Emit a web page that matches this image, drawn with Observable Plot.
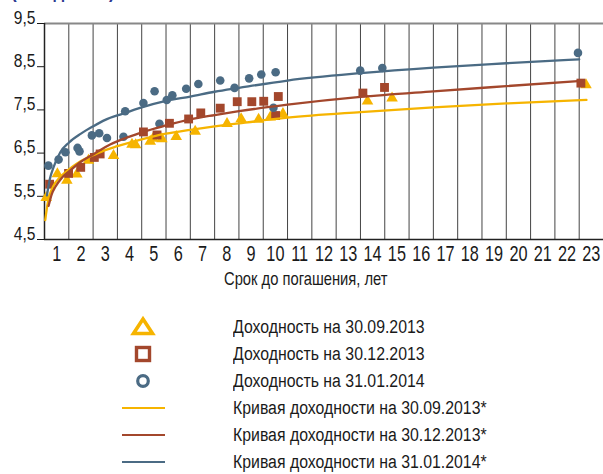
<!DOCTYPE html>
<html>
<head>
<meta charset="utf-8">
<script src="https://cdn.jsdelivr.net/npm/d3@7"></script>
<script src="https://cdn.jsdelivr.net/npm/@observablehq/plot@0.6"></script>
<style>
  body { margin: 0; background: #fff; }
  #wrap { position: relative; width: 603px; height: 474px; overflow: hidden; background: #fff;
          font-family: "Liberation Sans", Arial, sans-serif; color: #1a1a1a; }
  #title { position: absolute; left: 11px; top: -19px; font-size: 20px; line-height: 20px; font-weight: bold; color: #2B3990; white-space: nowrap;
           transform: scaleX(0.85); transform-origin: left center; }
  #chart { position: absolute; left: 0; top: 0; }
  .lg-row { position: absolute; left: 0; height: 24px; width: 603px; }
  .lg-row svg { position: absolute; left: 115px; top: 0; }
  .lg-row span { position: absolute; left: 233px; top: 0; font-size: 18px; line-height: 24px; white-space: nowrap; color: #1a1a1a;
                 transform: scaleX(0.88); transform-origin: left center; }
</style>
</head>
<body>
<div id="wrap">
  <div id="chart"></div>
  <div id="title">(% годовых)</div>
  <div id="legend"></div>
</div>
<script>
// ---- data ----
const yTicks = [4.5, 5.5, 6.5, 7.5, 8.5, 9.5];
const xTickLabels = [1,2,3,4,5,6,7,8,9,10,11,12,13,14,15,16,17,18,19,20,21,22,23];
const gridYears = [1,2,3,4,5,6,7,8,9,10,11,12,13,14,15,16,17,18,19,20,21,22,23];
const xAxisTitle = "Срок до погашения, лет";

// Доходность на 30.09.2013
const sepX = [0.07,0.53,0.92,1.33,1.81,2.84,3.60,3.75,4.35,4.47,4.83,5.42,6.20,7.51,8.09,8.81,9.29,9.81,13.29,14.30,22.28];
const sepY = [5.47,6.02,5.87,6.01,6.33,6.44,6.70,6.69,6.77,6.84,6.83,6.88,7.00,7.18,7.29,7.28,7.33,7.41,7.70,7.77,8.08];
// Доходность на 30.12.2013
const decX = [0.21,0.99,1.49,2.05,2.29,4.07,4.63,5.14,5.93,6.43,7.23,7.93,8.53,9.02,9.62,9.51,13.10,13.99,22.07];
const decY = [5.78,6.03,6.17,6.40,6.48,6.99,6.92,7.19,7.29,7.43,7.54,7.69,7.69,7.70,7.81,7.37,7.89,8.02,8.12];
// Доходность на 31.01.2014
const janX = [0.16,0.58,0.86,1.36,1.44,1.95,2.25,2.57,3.25,3.32,4.07,4.53,4.73,5.03,5.26,5.83,6.33,7.23,7.82,8.42,8.92,9.51,9.42,12.99,13.90,21.95];
const janY = [6.21,6.35,6.52,6.62,6.54,6.91,6.96,6.85,6.88,7.47,7.66,7.93,7.18,7.73,7.84,7.99,8.10,8.18,8.01,8.23,8.32,8.37,7.55,8.41,8.47,8.82];

// Кривые доходности
const sepCurveX = [0.03,0.15,0.35,0.65,1.0,1.5,2.0,2.5,3.0,4.0,5.0,6.0,7.0,8.0,10.0,13.0,16.0,19.0,22.3];
const sepCurveY = [4.95,5.40,5.72,5.95,6.12,6.32,6.45,6.57,6.66,6.82,6.95,7.04,7.12,7.19,7.32,7.45,7.56,7.65,7.73];
const decCurveX = [0.17,0.3,0.45,0.7,1.0,1.5,2.0,2.7,3.5,4.0,5.0,6.0,7.0,8.0,10.0,13.0,16.0,19.0,22.1];
const decCurveY = [5.28,5.55,5.72,5.92,6.07,6.30,6.47,6.70,6.88,6.98,7.14,7.28,7.38,7.47,7.62,7.80,7.93,8.05,8.17];
const janCurveX = [0.1,0.22,0.37,0.65,1.0,1.5,2.0,2.5,3.2,4.0,5.0,6.0,7.0,8.0,10.0,13.0,16.0,19.0,22.0];
const janCurveY = [5.52,5.90,6.17,6.52,6.74,6.95,7.12,7.27,7.41,7.56,7.71,7.81,7.92,8.01,8.18,8.35,8.48,8.58,8.67];

const legendLabels = [
  "Доходность на 30.09.2013",
  "Доходность на 30.12.2013",
  "Доходность на 31.01.2014",
  "Кривая доходности на 30.09.2013*",
  "Кривая доходности на 30.12.2013*",
  "Кривая доходности на 31.01.2014*"
];

// ---- styles ----
const YEL = "#F6B400", BRN = "#A3472C", BLU = "#4B6B84";
const FONT = '"Liberation Sans", Arial, sans-serif';

const zip = (xs, ys) => xs.map((x, i) => ({x, y: ys[i]}));
const sep = zip(sepX, sepY), dec = zip(decX, decY), jan = zip(janX, janY);
const sepC = zip(sepCurveX, sepCurveY), decC = zip(decCurveX, decCurveY), janC = zip(janCurveX, janCurveY);

const chart = Plot.plot({
  width: 603, height: 300,
  marginLeft: 44, marginRight: 0, marginTop: 23, marginBottom: 61,
  x: {domain: [0, 23], axis: null},
  y: {domain: [4.5, 9.5], ticks: yTicks, tickFormat: d => d.toFixed(1).replace(".", ","),
      tickSize: 7, tickPadding: 2, label: null},
  style: {fontFamily: FONT, fontSize: "19px", color: "#1a1a1a", background: "white", overflow: "visible"},
  marks: [
    Plot.ruleX(gridYears, {stroke: "#444", strokeWidth: 1}),
    Plot.ruleY([9.5], {stroke: "#888", strokeWidth: 2}),
    Plot.ruleY([4.5], {stroke: "#222", strokeWidth: 1.5}),
    Plot.ruleX([0], {stroke: "#222", strokeWidth: 1.5}),
    Plot.dot(sep, {x: "x", y: "y", symbol: "triangle", fill: YEL, r: 4.3}),
    Plot.dot(dec, {x: "x", y: "y", symbol: "square", fill: BRN, r: 5}),
    Plot.dot(jan, {x: "x", y: "y", symbol: "circle", fill: BLU, r: 4.3}),
    Plot.line(sepC, {x: "x", y: "y", stroke: YEL, strokeWidth: 2.3, curve: "monotone-x"}),
    Plot.line(decC, {x: "x", y: "y", stroke: BRN, strokeWidth: 2.3, curve: "monotone-x"}),
    Plot.line(janC, {x: "x", y: "y", stroke: BLU, strokeWidth: 2.3, curve: "monotone-x"}),
    Plot.text(xTickLabels, {x: d => d - 0.5, y: () => 4.5, dy: 21, text: d => String(d), fontSize: 22, fill: "#1a1a1a"}),
    Plot.text([xAxisTitle], {x: () => 10.75, y: () => 4.5, dy: 45, text: d => d, fontSize: 18, fill: "#1a1a1a"})
  ]
});
document.getElementById("chart").appendChild(chart);

// condense SVG texts horizontally around their anchor point (mimics a condensed typeface)
chart.querySelectorAll("text").forEach(t => {
  const fs = parseFloat(getComputedStyle(t).fontSize) || 18;
  const s = fs >= 21 ? 0.74 : 0.82;
  const x = t.getAttribute("x"), y = t.getAttribute("y");
  let tr = t.getAttribute("transform") || "";
  if (x !== null || y !== null) {
    tr += ` translate(${parseFloat(x) || 0},${parseFloat(y) || 0})`;
    t.removeAttribute("x"); t.removeAttribute("y");
  }
  t.setAttribute("transform", (tr + ` scale(${s},1)`).trim());
});

// ---- legend ----
const rowsY = [327, 354, 381, 408, 435, 462];
const icons = [
  `<polygon points="28,4 37.5,18.5 18.5,18.5" fill="#fff" stroke="${YEL}" stroke-width="3.6" stroke-linejoin="miter"/>`,
  `<rect x="21.5" y="5.5" width="13" height="13" fill="#fff" stroke="${BRN}" stroke-width="3.4"/>`,
  `<circle cx="28" cy="12" r="5.3" fill="#fff" stroke="${BLU}" stroke-width="3.2"/>`,
  `<line x1="7" x2="50" y1="12" y2="12" stroke="${YEL}" stroke-width="2.2"/>`,
  `<line x1="7" x2="50" y1="12" y2="12" stroke="${BRN}" stroke-width="2.2"/>`,
  `<line x1="7" x2="50" y1="12" y2="12" stroke="${BLU}" stroke-width="2.2"/>`
];
const legend = document.getElementById("legend");
legendLabels.forEach((lab, i) => {
  const row = document.createElement("div");
  row.className = "lg-row";
  row.style.top = (rowsY[i] - 12) + "px";
  row.innerHTML = `<svg width="60" height="24">${icons[i]}</svg><span>${lab}</span>`;
  legend.appendChild(row);
});
</script>
</body>
</html>
